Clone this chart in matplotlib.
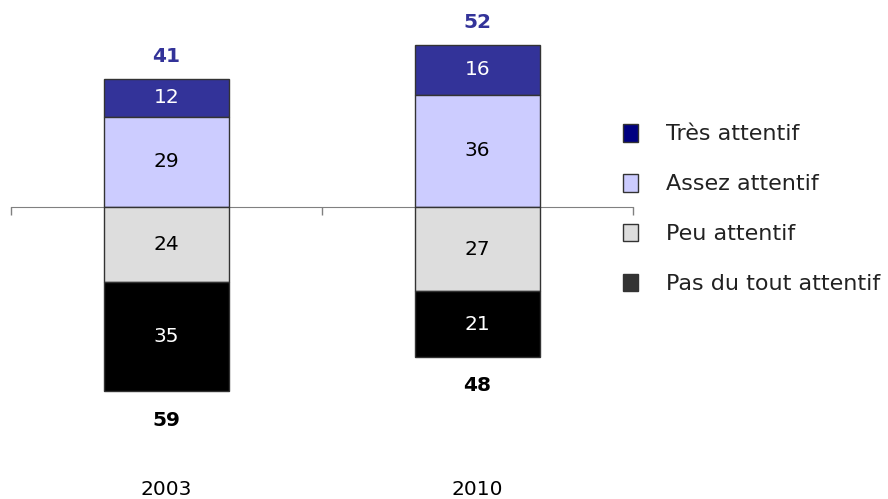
import matplotlib
matplotlib.use("Agg")
import matplotlib.pyplot as plt
from matplotlib.patches import Patch

years = ["2003", "2010"]
tres = [12, 16]
assez = [29, 36]
peu = [24, 27]
pas = [35, 21]
series_names = ["Très attentif", "Assez attentif", "Peu attentif", "Pas du tout attentif"]
bar_colors = ["#333399", "#CCCCFF", "#DDDDDD", "#000000"]
legend_colors = ["#000080", "#CCCCFF", "#DDDDDD", "#333333"]
text_colors = ["white", "black", "black", "white"]

plt.rcParams['font.family'] = ['DejaVu Sans']
fig = plt.figure(figsize=(8.88, 4.99), dpi=100)
ax = fig.add_axes([11/888, 0, 622/888, 1])
ax.set_xlim(-0.5, 1.5)
ppu = 3.12
ax.set_ylim(-(499-207)/ppu, 207/ppu)

FS = 14.5
x = list(range(len(years)))
w = 0.4
ec = "#333333"
b1 = ax.bar(x, tres, w, bottom=assez, color=bar_colors[0], edgecolor=ec, linewidth=1)
b2 = ax.bar(x, assez, w, color=bar_colors[1], edgecolor=ec, linewidth=1)
b3 = ax.bar(x, [-v for v in peu], w, color=bar_colors[2], edgecolor=ec, linewidth=1)
b4 = ax.bar(x, [-v for v in pas], w, bottom=[-v for v in peu], color=bar_colors[3], edgecolor=ec, linewidth=1)

for bars, vals, tc in zip([b1, b2, b3, b4], [tres, assez, peu, pas], text_colors):
    for rect, v in zip(bars, vals):
        cy = rect.get_y() + rect.get_height() / 2
        ax.text(rect.get_x() + rect.get_width() / 2, cy, str(v), ha="center", va="center",
                color=tc, fontsize=FS)

for i in x:
    pos = tres[i] + assez[i]
    neg = peu[i] + pas[i]
    ax.annotate(str(pos), (i, pos), xytext=(0, 16), textcoords="offset points",
                ha="center", va="center", fontsize=FS, fontweight="bold", color="#333399")
    ax.annotate(str(neg), (i, -neg), xytext=(0, -21), textcoords="offset points",
                ha="center", va="center", fontsize=FS, fontweight="bold", color="black")
    ax.text(i, -(495-207)/ppu, years[i], ha="center", va="baseline", fontsize=FS, color="black")

for s in ["top", "right", "left"]:
    ax.spines[s].set_visible(False)
ax.spines["bottom"].set_position(("data", 0))
ax.spines["bottom"].set_color("#808080")
ax.spines["bottom"].set_zorder(0.5)
ax.set_xticks([-0.5, 0.5, 1.5])
ax.set_xticklabels([])
ax.tick_params(axis="x", direction="out", length=6, color="#808080", width=1)
ax.set_yticks([])

handles = [Patch(facecolor=c, edgecolor="#333333", linewidth=1) for c in legend_colors]
fig.legend(handles, series_names, loc="upper left", bbox_to_anchor=(614/888, 1-115/499),
           frameon=False, fontsize=16, handlelength=0.7, handleheight=0.85,
           labelspacing=1.32, handletextpad=1.25, borderaxespad=0, labelcolor="#222222")

fig.savefig("out.png", dpi=100)
